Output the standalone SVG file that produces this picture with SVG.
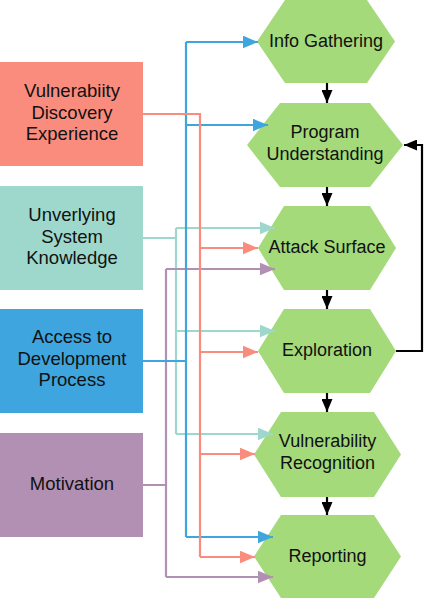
<svg xmlns="http://www.w3.org/2000/svg" width="424" height="600" viewBox="0 0 424 600">
<style>
text{font-family:"Liberation Sans",Arial,sans-serif;font-size:18px;fill:#111;text-anchor:middle}
.bx text{font-size:18.5px}
.hex{fill:#A4DA7A}
.c{fill:none;stroke-width:2.2}
.bl{stroke:#3EA5DE}
.sa{stroke:#FA8C7E}
.te{stroke:#9ED8CC}
.pu{stroke:#B290B4}
.k{stroke:#000}
</style>
<defs>
<marker id="aB" markerUnits="userSpaceOnUse" markerWidth="16" markerHeight="13" refX="15.5" refY="6.5" orient="auto"><path d="M0,0L15.5,6.5L0,13z" fill="#3EA5DE"/></marker>
<marker id="aS" markerUnits="userSpaceOnUse" markerWidth="16" markerHeight="13" refX="15.5" refY="6.5" orient="auto"><path d="M0,0L15.5,6.5L0,13z" fill="#FA8C7E"/></marker>
<marker id="aT" markerUnits="userSpaceOnUse" markerWidth="16" markerHeight="13" refX="15.5" refY="6.5" orient="auto"><path d="M0,0L15.5,6.5L0,13z" fill="#9ED8CC"/></marker>
<marker id="aP" markerUnits="userSpaceOnUse" markerWidth="16" markerHeight="13" refX="15.5" refY="6.5" orient="auto"><path d="M0,0L15.5,6.5L0,13z" fill="#B290B4"/></marker>
<marker id="aK" markerUnits="userSpaceOnUse" markerWidth="14" markerHeight="11" refX="13" refY="5.5" orient="auto"><path d="M0,0L13,5.5L0,11z" fill="#000"/></marker>
</defs>

<g id="box-experience" class="bx"><rect x="0" y="62" width="143" height="104" fill="#FA8C7E"/><text x="72" y="97">Vulnerabiity</text><text x="72" y="119">Discovery</text><text x="72" y="140">Experience</text></g>
<g id="box-knowledge" class="bx"><rect x="0" y="186" width="143" height="104" fill="#9ED8CC"/><text x="72" y="221">Unverlying</text><text x="72" y="243">System</text><text x="72" y="264">Knowledge</text></g>
<g id="box-access" class="bx"><rect x="0" y="309" width="143" height="104" fill="#3EA5DE"/><text x="72" y="343">Access to</text><text x="72" y="365">Development</text><text x="72" y="386">Process</text></g>
<g id="box-motivation" class="bx"><rect x="0" y="433" width="143" height="104" fill="#B290B4"/><text x="72" y="490">Motivation</text></g>

<g id="hex-info"><polygon class="hex" points="257,41.5 285,0 367,0 395,41.5 367,83 285,83"/><text x="326" y="47">Info Gathering</text></g>
<g id="hex-program"><polygon class="hex" points="247,145 280,103 370,103 403,145 370,187 280,187"/><text x="325" y="138">Program</text><text x="325" y="160">Understanding</text></g>
<g id="hex-attack"><polygon class="hex" points="258,248 284,206 370,206 396,248 370,290 284,290"/><text x="327" y="253">Attack Surface</text></g>
<g id="hex-exploration"><polygon class="hex" points="258,351 284,309 370,309 396,351 370,393 284,393"/><text x="327" y="356">Exploration</text></g>
<g id="hex-recognition"><polygon class="hex" points="254,454.5 281,412 374,412 401,454.5 374,497 281,497"/><text x="327.5" y="447">Vulnerability</text><text x="327.5" y="469">Recognition</text></g>
<g id="hex-reporting"><polygon class="hex" points="254,556.5 281,515 374,515 401,556.5 374,598 281,598"/><text x="327.5" y="562">Reporting</text></g>

<g id="connectors">
<path class="c te" d="M143,238H176M176,228V434"/>
<path class="c te" marker-end="url(#aT)" d="M176,228H275"/>
<path class="c te" marker-end="url(#aT)" d="M176,331H275"/>
<path class="c te" marker-end="url(#aT)" d="M176,434H273"/>
<path class="c pu" d="M143,485H166M166,269V577"/>
<path class="c pu" marker-end="url(#aP)" d="M166,269H275"/>
<path class="c pu" marker-end="url(#aP)" d="M166,577H273"/>
<path class="c bl" d="M143,361H186M186,42V537"/>
<path class="c bl" marker-end="url(#aB)" d="M186,42H258"/>
<path class="c bl" marker-end="url(#aB)" d="M186,125H268"/>
<path class="c bl" marker-end="url(#aB)" d="M186,537H273"/>
<path class="c sa" stroke-width="2.6" d="M143,114H200V557"/>
<path class="c sa" marker-end="url(#aS)" d="M200,248H258"/>
<path class="c sa" marker-end="url(#aS)" d="M200,352H258"/>
<path class="c sa" marker-end="url(#aS)" d="M200,454H255"/>
<path class="c sa" marker-end="url(#aS)" d="M200,557H255"/>
<path class="c k" marker-end="url(#aK)" d="M327,83V103"/>
<path class="c k" marker-end="url(#aK)" d="M327,187V206"/>
<path class="c k" marker-end="url(#aK)" d="M327,290V309"/>
<path class="c k" marker-end="url(#aK)" d="M327,393V412"/>
<path class="c k" marker-end="url(#aK)" d="M327,497V515"/>
<path class="c k" marker-end="url(#aK)" d="M396,351H422V145H404"/>
</g>
</svg>
